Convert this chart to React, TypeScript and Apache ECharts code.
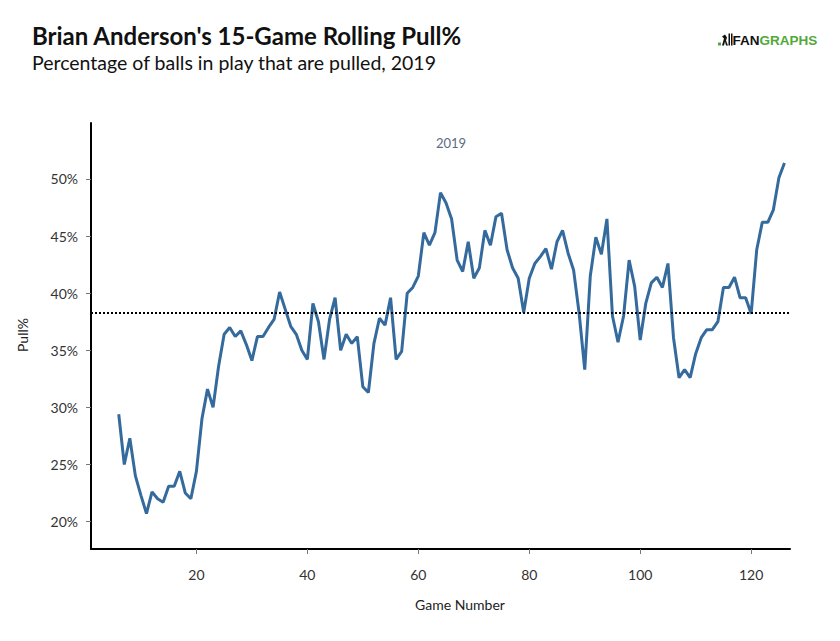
import { useEffect, useRef } from "react";
import * as echarts from "echarts";

// rolling 15-game pull% by game number, starting at game 6
const FIRST_GAME = 6;
const PULL_PCT = [
  29.4, 25.0, 27.3, 24.0, 22.3, 20.7, 22.6, 22.0, 21.7, 23.1,
  23.1, 24.4, 22.5, 22.0, 24.4, 29.0, 31.6, 30.0, 33.6, 36.4,
  37.0, 36.2, 36.7, 35.5, 34.1, 36.2, 36.2, 37.0, 37.7, 40.1,
  38.6, 37.1, 36.4, 35.0, 34.2, 39.1, 37.5, 34.2, 37.7, 39.6,
  35.0, 36.4, 35.6, 36.2, 31.8, 31.3, 35.6, 37.8, 37.2, 39.6,
  34.2, 34.9, 40.0, 40.5, 41.5, 45.3, 44.2, 45.3, 48.8, 47.9,
  46.5, 42.9, 41.9, 44.5, 41.3, 42.2, 45.5, 44.2, 46.7, 47.0,
  43.8, 42.2, 41.3, 38.3, 41.3, 42.6, 43.2, 43.9, 42.1, 44.5,
  45.5, 43.5, 42.0, 38.2, 33.3, 41.5, 44.9, 43.4, 46.5, 38.0,
  35.7, 38.0, 42.9, 40.6, 35.9, 39.1, 40.9, 41.4, 40.5, 42.6,
  36.1, 32.6, 33.3, 32.6, 34.7, 36.1, 36.8, 36.8, 37.5, 40.5,
  40.5, 41.4, 39.6, 39.6, 38.2, 43.8, 46.2, 46.2, 47.3, 50.1,
  51.4,
];
const SEASON_AVG = 38.3;
const X_TICKS = [20, 40, 60, 80, 100, 120];
const Y_TICKS = [20, 25, 30, 35, 40, 45, 50];

const TITLE = "Brian Anderson's 15-Game Rolling Pull%";
const SUBTITLE = "Percentage of balls in play that are pulled, 2019";
const FACET = "2019";

export default function App() {
  const chartRef = useRef<HTMLDivElement>(null);

  useEffect(() => {
    if (!chartRef.current) return;
    const chart = echarts.init(chartRef.current, null, { renderer: "svg" });

    const points = PULL_PCT.map((v, i) => [FIRST_GAME + i, v]);

    chart.setOption({
      animation: false,
      backgroundColor: "#fff",
      textStyle: { fontFamily: "Lato" },
      grid: { left: 91, right: 50, top: 123, bottom: 92 },
      xAxis: {
        type: "value",
        min: 1,
        max: 127,
        axisLine: { show: true, lineStyle: { color: "#000", width: 2 } },
        axisTick: {
          show: true,
          customValues: X_TICKS,
          length: 5,
          lineStyle: { color: "#777", width: 1 },
        },
        axisLabel: {
          customValues: X_TICKS,
          color: "#333",
          fontSize: 14,
          margin: 18,
        },
        splitLine: { show: false },
      },
      yAxis: {
        type: "value",
        min: 17.6,
        max: 54.9,
        axisLine: { show: true, lineStyle: { color: "#000", width: 2 } },
        axisTick: {
          show: true,
          customValues: Y_TICKS,
          length: 5,
          lineStyle: { color: "#777", width: 1 },
        },
        axisLabel: {
          customValues: Y_TICKS,
          color: "#333",
          fontSize: 14,
          margin: 13,
          formatter: (v: number) => `${v}%`,
        },
        splitLine: { show: false },
      },
      series: [
        {
          type: "line",
          data: points,
          showSymbol: false,
          symbol: "none",
          lineStyle: { color: "#356a9d", width: 3 },
          markLine: {
            silent: true,
            symbol: "none",
            label: { show: false },
            lineStyle: { color: "#000", width: 2, type: [2, 2] },
            data: [{ yAxis: SEASON_AVG }],
          },
        },
      ],
      graphic: [
        {
          type: "text",
          left: 32,
          top: 23,
          style: {
            text: TITLE,
            fontFamily: "Lato",
            fontWeight: "bold",
            fontSize: 24,
            fill: "#111",
          },
        },
        {
          type: "text",
          left: 32,
          top: 52,
          style: {
            text: SUBTITLE,
            fontFamily: "Lato",
            fontSize: 19.5,
            fill: "#111",
          },
        },
        {
          type: "text",
          x: 451,
          y: 143,
          style: {
            text: FACET,
            fontFamily: "Lato",
            fontSize: 13,
            fill: "#5b6b80",
            align: "center",
            verticalAlign: "middle",
          },
        },
        {
          type: "text",
          x: 22,
          y: 335,
          rotation: Math.PI / 2,
          style: {
            text: "Pull%",
            fontFamily: "Lato",
            fontSize: 14,
            fill: "#222",
            align: "center",
            verticalAlign: "middle",
          },
        },
        {
          type: "text",
          x: 460,
          y: 604,
          style: {
            text: "Game Number",
            fontFamily: "Lato",
            fontSize: 14,
            fill: "#222",
            align: "center",
            verticalAlign: "middle",
          },
        },
        // fangraphs logo
        {
          type: "group",
          left: 718,
          top: 33,
          children: [
            { type: "rect", shape: { x: 0, y: 9, width: 3, height: 3 }, style: { fill: "#52a93a" } },
            {
              type: "polygon",
              shape: { points: [[4, 12], [6, 5], [4, 3], [7, 1], [9, 4], [8, 7], [10, 12], [8, 12], [7, 8], [6, 12]] },
              style: { fill: "#111" },
            },
            { type: "rect", shape: { x: 10.5, y: 0, width: 1.5, height: 12 }, style: { fill: "#111" } },
            { type: "rect", shape: { x: 13, y: 0, width: 1.5, height: 12 }, style: { fill: "#111" } },
            {
              type: "text",
              x: 14.5,
              y: 6.5,
              style: {
                text: "{a|FAN}{b|GRAPHS}",
                verticalAlign: "middle",
                rich: {
                  a: { fontFamily: "Liberation Sans", fontWeight: "bold", fontSize: 13.5, fill: "#111", color: "#111" },
                  b: { fontFamily: "Liberation Sans", fontWeight: "bold", fontSize: 13.5, fill: "#52a93a", color: "#52a93a" },
                },
              },
            },
          ],
        },
      ],
    });

    return () => chart.dispose();
  }, []);

  return (
    <div
      ref={chartRef}
      style={{ position: "fixed", left: 0, top: 0, width: 840, height: 641 }}
    />
  );
}
